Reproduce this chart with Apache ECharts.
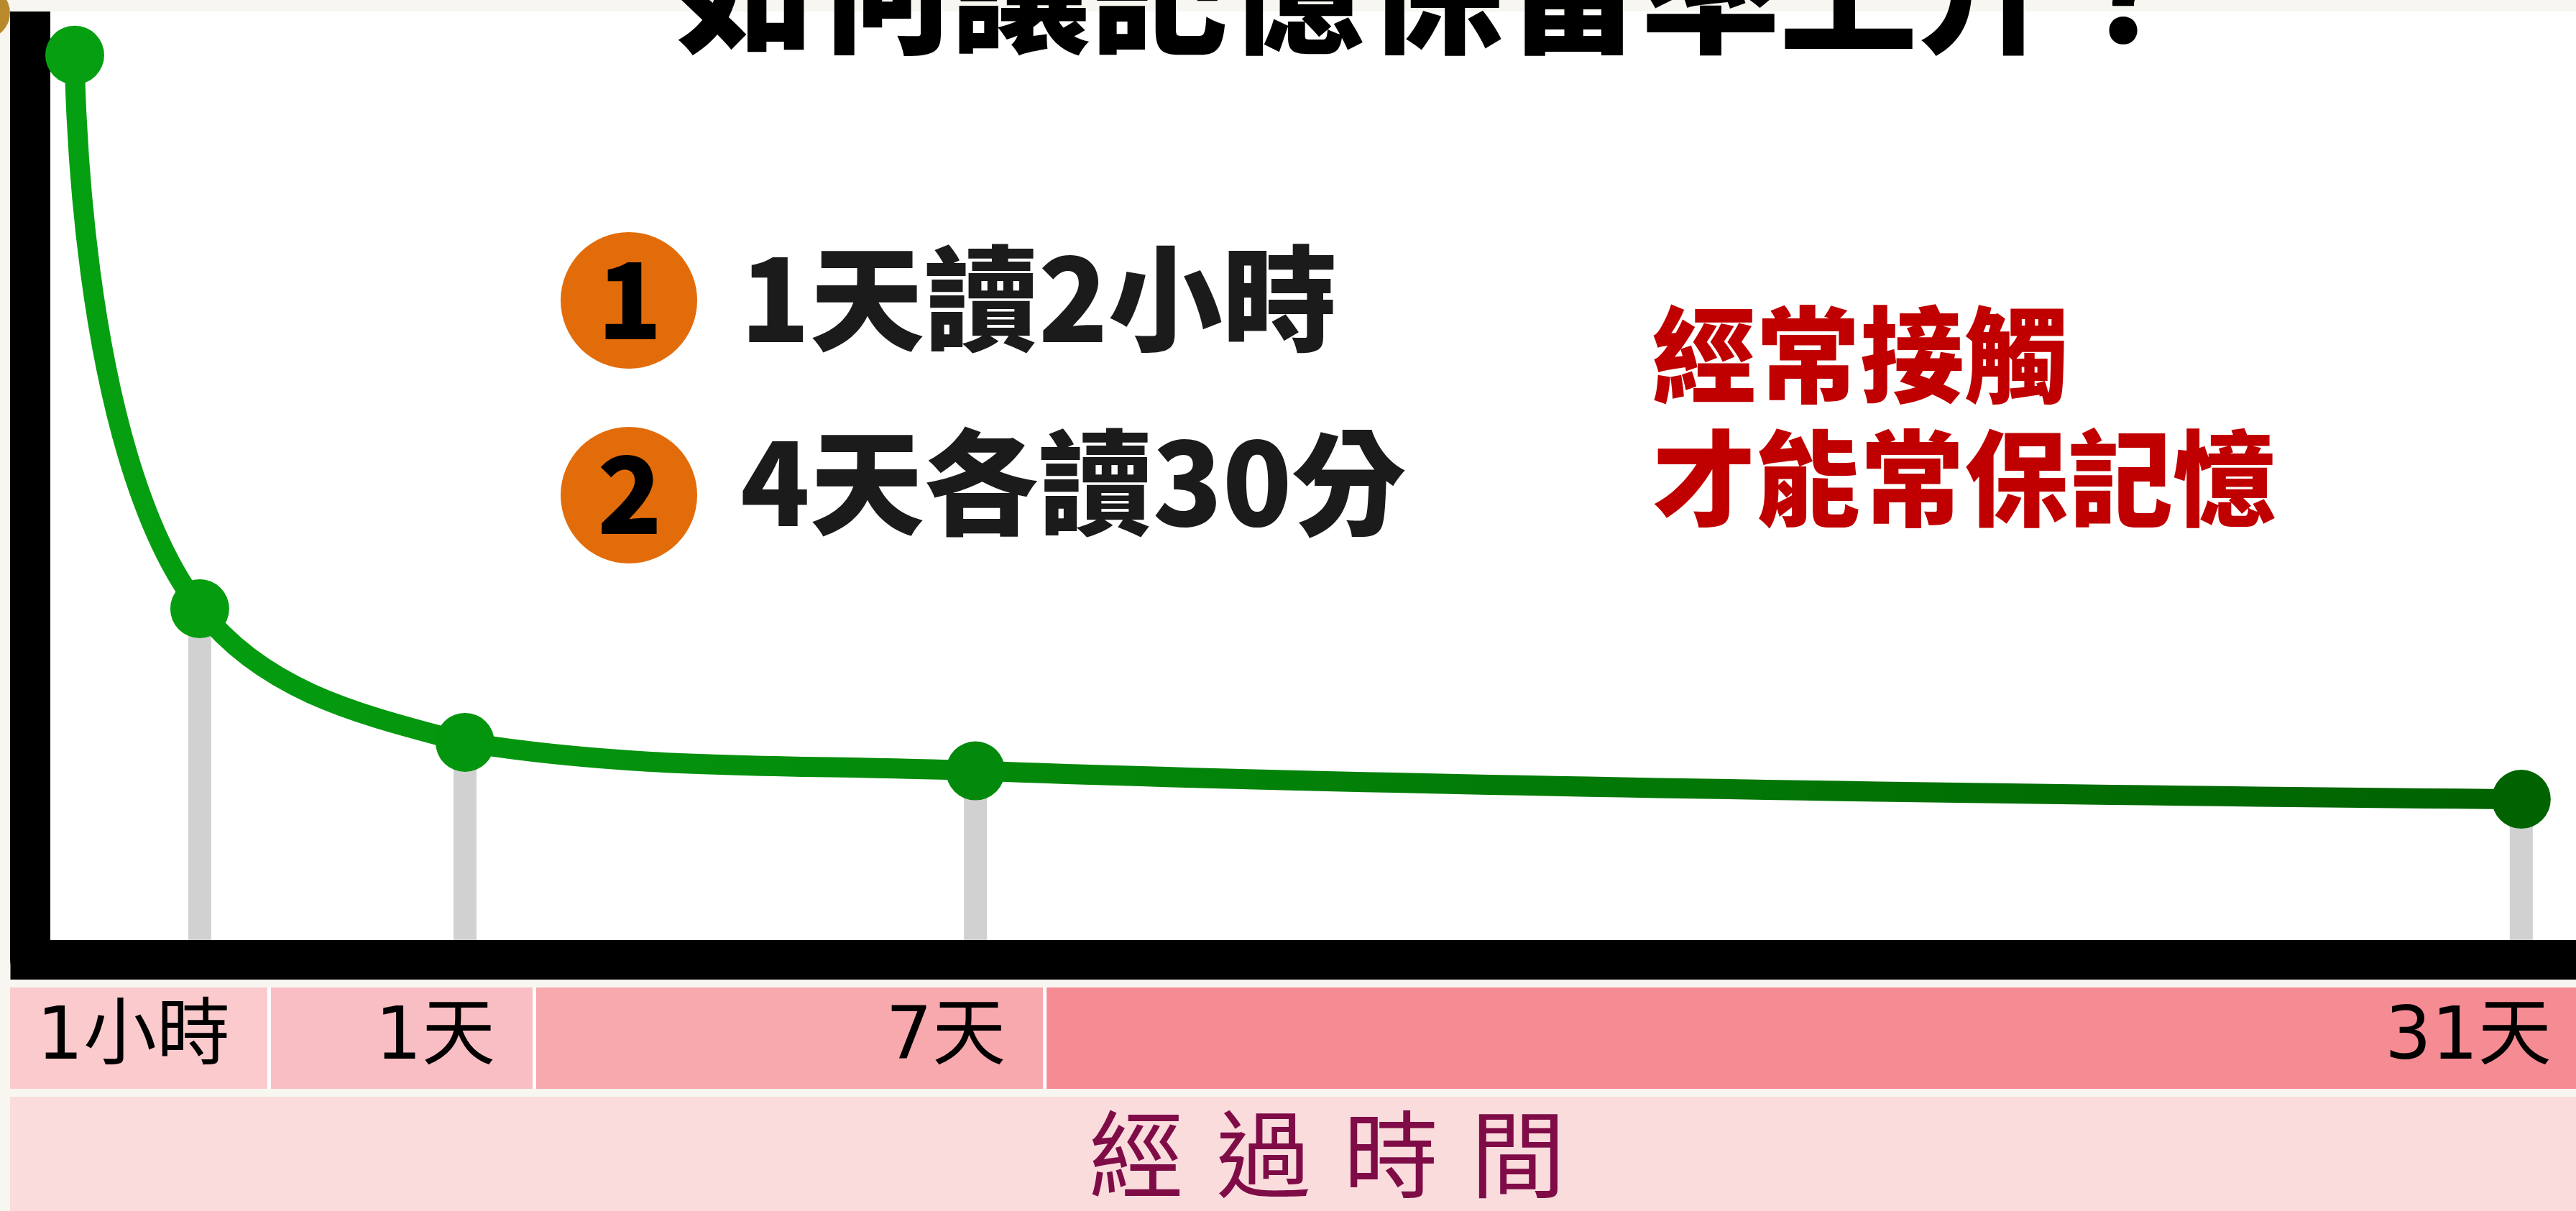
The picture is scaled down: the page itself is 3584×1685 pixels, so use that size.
<!DOCTYPE html>
<html>
<head>
<meta charset="utf-8">
<title>如何讓記憶保留率上升？</title>
<script src="https://cdn.jsdelivr.net/npm/echarts@6/dist/echarts.min.js"></script>
<style>
html, body {
  margin: 0;
  padding: 0;
  background: #f8f6f0;
}
#main {
  width: 3584px;
  height: 1685px;
}
</style>
</head>
<body>
<div id="main"></div>
<script>
// 時間軸位置（示意比例 0~100）與記憶保留率
const xPos = [1.75, 6.66, 17.08, 37.13, 97.85]
const retention = [95.4, 37.0, 22.9, 19.9, 16.9]
const tickLabels = ['1小時', '1天', '7天', '31天']
const xName = '經過時間'
const title = '如何讓記憶保留率上升？'
const tips = ['1天讀2小時', '4天各讀30分']
const slogan = ['經常接觸', '才能常保記憶']

const cellColors = ['#fbcacd', '#f9bec3', '#f7a9ae', '#f58b93']
const FONT = '"Noto Sans CJK TC", "Noto Sans CJK SC", sans-serif'
const CURVE_K = 0.36

function createChart () {
  const chartDom = document.getElementById('main')
  const myChart = echarts.init(chartDom)

  const pointData = xPos.map(function (x, i) {
    return [x, retention[i]]
  })
  // 第一個點不畫灰色垂直線
  const dropData = pointData.slice(1)
  const cellData = tickLabels.map(function (t, i) {
    return [xPos[i + 1], 0.5]
  })

  function unit (a, b) {
    const dx = b[0] - a[0]
    const dy = b[1] - a[1]
    const l = Math.sqrt(dx * dx + dy * dy) || 1
    return [dx / l, dy / l]
  }
  function clamp (v, a, b) {
    return Math.max(Math.min(a, b), Math.min(Math.max(a, b), v))
  }

  // 平滑曲線：內部點切線取前後兩段方向的角平分線
  function renderCurve (params, api) {
    if (params.dataIndex !== 0) return null
    const pts = pointData.map(function (d) { return api.coord(d) })
    const n = pts.length
    const tan = pts.map(function (p, i) {
      if (i === 0 || i === n - 1) return [0, 0]
      const u0 = unit(pts[i - 1], p)
      const u1 = unit(p, pts[i + 1])
      return unit([0, 0], [u0[0] + u1[0], u0[1] + u1[1]])
    })
    const x0 = pts[0][0]
    const x1 = pts[n - 1][0]
    const stroke = new echarts.graphic.LinearGradient(x0, 0, x1, 0, [
      { offset: 0, color: '#05a011' },
      { offset: 1, color: '#006200' }
    ], true)
    const children = []
    for (let i = 1; i < n; i++) {
      const a = pts[i - 1]
      const b = pts[i]
      const len = Math.sqrt((b[0] - a[0]) * (b[0] - a[0]) + (b[1] - a[1]) * (b[1] - a[1])) * CURVE_K
      children.push({
        type: 'bezierCurve',
        shape: {
          x1: a[0],
          y1: a[1],
          cpx1: clamp(a[0] + tan[i - 1][0] * len, a[0], b[0]),
          cpy1: clamp(a[1] + tan[i - 1][1] * len, a[1], b[1]),
          cpx2: clamp(b[0] - tan[i][0] * len, a[0], b[0]),
          cpy2: clamp(b[1] - tan[i][1] * len, a[1], b[1]),
          x2: b[0],
          y2: b[1]
        },
        style: { fill: null, stroke: stroke, lineWidth: 28, lineCap: 'round' }
      })
    }
    return { type: 'group', children: children }
  }

  function renderCell (params, api) {
    const i = params.dataIndex
    const cs = params.coordSys
    const x = api.coord([api.value(0), 0])[0]
    const left = i === 0 ? cs.x - 28 : api.coord([xPos[i], 0])[0] + 94 + 5
    const right = Math.min(x + 94, cs.x + cs.width)
    return {
      type: 'group',
      children: [
        {
          type: 'rect',
          shape: { x: left, y: cs.y, width: right - left, height: cs.height },
          style: { fill: cellColors[i] }
        },
        {
          type: 'text',
          x: x + 42,
          y: cs.y + cs.height / 2 + 2,
          style: {
            text: tickLabels[i],
            align: 'right',
            verticalAlign: 'middle',
            fill: '#000',
            font: '102px "DejaVu Sans", ' + FONT
          }
        }
      ]
    }
  }

  const graphics = [
    { type: 'rect', z: 0, shape: { x: 14, y: 1374, width: 3570, height: 141 }, style: { fill: '#fff' } },
    { type: 'rect', z: 0, shape: { x: 14, y: 1526, width: 3570, height: 159 }, style: { fill: '#fadcdd' } },
    { type: 'circle', z: 0, shape: { cx: -22, cy: 18, r: 36 }, style: { fill: '#b98a2c' } },
    { type: 'rect', z: 50, shape: { x: 14, y: 0, width: 3570, height: 16 }, style: { fill: '#f8f6f0' } },
    {
      type: 'text',
      z: 60,
      x: 940,
      y: -14,
      style: {
        text: title,
        align: 'left',
        verticalAlign: 'middle',
        fill: '#000',
        font: '900 192px ' + FONT
      }
    }
  ]
  tips.forEach(function (t, i) {
    const cy = 418 + i * 271
    graphics.push({ type: 'circle', z: 20, shape: { cx: 875, cy: cy, r: 95 }, style: { fill: '#e36c0a' } })
    graphics.push({
      type: 'text',
      z: 21,
      x: 876,
      y: cy - 2,
      style: { text: String(i + 1), align: 'center', verticalAlign: 'middle', fill: '#000', font: '900 148px ' + FONT }
    })
    graphics.push({
      type: 'text',
      z: 21,
      x: 1030,
      y: cy - (i === 0 ? 2 : 17),
      style: { text: t, align: 'left', verticalAlign: 'middle', fill: '#1b1b1b', font: '900 159px ' + FONT }
    })
  })
  slogan.forEach(function (t, i) {
    graphics.push({
      type: 'text',
      z: 21,
      x: 2298,
      y: 494 + i * 172,
      style: { text: t, align: 'left', verticalAlign: 'middle', fill: '#c00000', font: '900 145px ' + FONT }
    })
  })
  xName.split('').forEach(function (c, i) {
    graphics.push({
      type: 'text',
      z: 21,
      x: 1581 + i * 177,
      y: 1606,
      style: { text: c, align: 'center', verticalAlign: 'middle', fill: '#7f0c47', font: '132px ' + FONT }
    })
  })

  const option = {
    animation: false,
    backgroundColor: '#f8f6f0',
    grid: [
      {
        left: 42,
        right: 0,
        top: 16,
        bottom: 350,
        show: true,
        backgroundColor: '#fff',
        borderWidth: 0
      },
      {
        left: 42,
        right: 0,
        top: 1374,
        height: 141
      }
    ],
    xAxis: [
      {
        type: 'value',
        min: 0,
        max: 100,
        z: 10,
        axisLine: { lineStyle: { color: '#000', width: 55, cap: 'square' } },
        axisTick: { show: false },
        axisLabel: { show: false },
        splitLine: { show: false }
      },
      {
        type: 'value',
        gridIndex: 1,
        min: 0,
        max: 100,
        show: false
      }
    ],
    yAxis: [
      {
        type: 'value',
        min: 0,
        max: 100,
        z: 0,
        axisLine: { show: true, onZero: false, lineStyle: { color: '#000', width: 56 } },
        axisTick: { show: false },
        axisLabel: { show: false },
        splitLine: { show: false }
      },
      {
        type: 'value',
        gridIndex: 1,
        min: 0,
        max: 1,
        show: false
      }
    ],
    visualMap: {
      show: false,
      type: 'continuous',
      seriesIndex: 2,
      dimension: 0,
      min: 0,
      max: 100,
      inRange: { color: ['#05a011', '#006200'] }
    },
    series: [
      {
        name: 'drop',
        type: 'bar',
        barWidth: 32,
        z: 2,
        itemStyle: { color: '#d1d1d1' },
        data: dropData
      },
      {
        name: 'curve',
        type: 'custom',
        z: 3,
        renderItem: renderCurve,
        data: pointData
      },
      {
        name: '記憶保留率',
        type: 'scatter',
        z: 4,
        symbol: 'circle',
        symbolSize: 82,
        itemStyle: { opacity: 1 },
        data: pointData
      },
      {
        name: 'cells',
        type: 'custom',
        xAxisIndex: 1,
        yAxisIndex: 1,
        renderItem: renderCell,
        data: cellData
      }
    ],
    graphic: graphics
  }
  myChart.setOption(option)
  window.addEventListener('resize', () => {
    myChart.resize()
  })
}

createChart()
</script>
</body>
</html>
